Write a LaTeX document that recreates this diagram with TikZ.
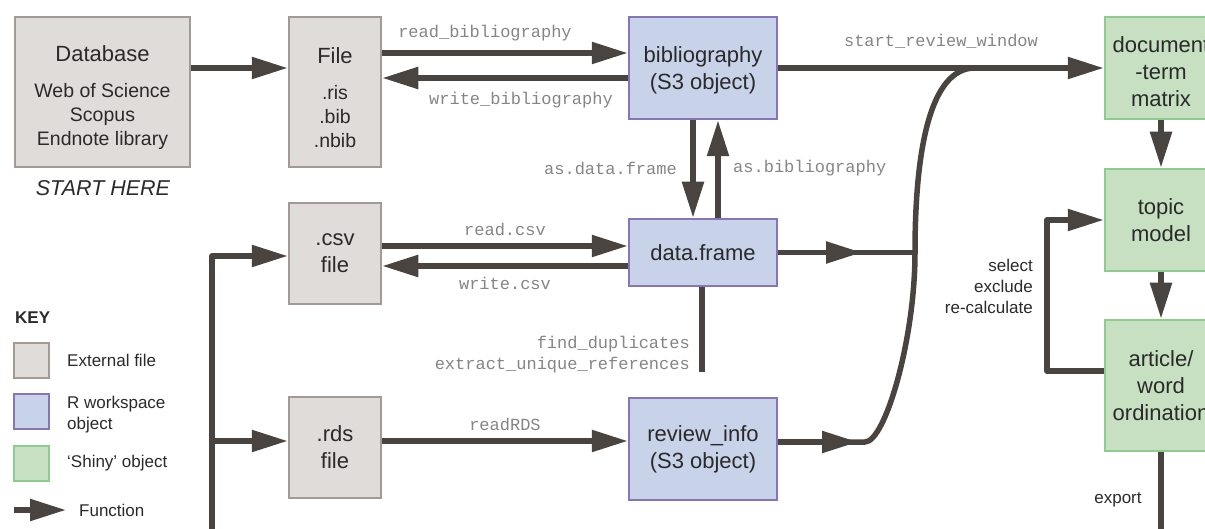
\documentclass[tikz,border=0pt]{standalone}
\usepackage{fontspec}
\setmainfont{Liberation Sans}
\setmonofont{Liberation Mono}
\usetikzlibrary{arrows.meta}
\definecolor{extfill}{HTML}{E0DCDA}
\definecolor{extline}{HTML}{A39A95}
\definecolor{robjfill}{HTML}{C8D2E8}
\definecolor{robjline}{HTML}{8676B8}
\definecolor{shinyfill}{HTML}{C6E0C1}
\definecolor{shinyline}{HTML}{8ECB8E}
\definecolor{fncol}{HTML}{4A4440}
\definecolor{boxtext}{HTML}{2A2A2A}
\definecolor{fnlabel}{HTML}{858585}
\tikzset{
  box/.style={draw, line width=2.5pt, align=center, inner sep=0pt, text=boxtext,
    font=\fontsize{22}{27}\selectfont},
  extfile/.style={box, fill=extfill, draw=extline},
  robj/.style={box, fill=robjfill, draw=robjline},
  shiny/.style={box, fill=shinyfill, draw=shinyline},
  ln/.style={draw=fncol, line width=5.5pt, line join=round},
  fn/.style={ln, -{Triangle[length=36pt,width=21pt]}},
  fname/.style={font=\ttfamily\fontsize{17}{21}\selectfont, text=fnlabel, inner sep=0pt},
  note/.style={font=\fontsize{17}{21}\selectfont, text=boxtext, inner sep=0pt},
}
\begin{document}
\begin{tikzpicture}[x=1pt, y=-1pt]
\useasboundingbox (0,0) rectangle (1205,529);
\clip (0,0) rectangle (1205,529);
% files and objects
\node [extfile, minimum width=175pt, minimum height=150pt, font=\fontsize{19.5}{24}\selectfont] (db) at (102.5,92)
  {{\fontsize{22}{27}\selectfont\rule{0pt}{28pt}Database}\\[12pt] Web of Science\\ Scopus\\ Endnote library};
\node [extfile, minimum width=92pt, minimum height=150pt, font=\fontsize{19.5}{24}\selectfont] (file) at (335,92)
  {{\fontsize{22}{27}\selectfont\rule{0pt}{28pt}File}\\[12pt] .ris\\ .bib\\ .nbib};
\node [robj, minimum width=148pt, minimum height=102pt] (bib) at (703,68) {\rule{0pt}{20pt}bibliography\\(S3 object)};
\node [shiny, minimum width=112pt, minimum height=102pt] (dtm) at (1161,68) {\rule{0pt}{24pt}document\\-term\\matrix};
\node [extfile, minimum width=92pt, minimum height=101pt] (csv) at (335,253.5) {.csv\\file};
\node [robj, minimum width=148pt, minimum height=67pt] (df) at (703,252.5) {data.frame};
\node [extfile, minimum width=92pt, minimum height=101pt] (rds) at (335,447.5) {.rds\\file};
\node [robj, minimum width=148pt, minimum height=102pt] (ri) at (703,449) {review\_info\\(S3 object)};
\node [shiny, minimum width=112pt, minimum height=102pt] (tm) at (1161,220) {topic\\model};
\node [shiny, minimum width=112pt, minimum height=131pt] (ord) at (1161,385.5) {article/\\word\\ordination};
\node [font=\itshape\fontsize{21.5}{26}\selectfont, text=boxtext] (start) at (103,188) {START HERE};
% helper points
\coordinate (dfhead) at (862,252.5);
\coordinate (join) at (915,252.5);
\coordinate (rihead) at (858,442);
\coordinate (merge) at (975,68);
\coordinate (dupend) at (702,372);
\coordinate (loop) at (1047,220);
\coordinate (exportend) at (1161,545);
\coordinate (busend) at (212,545);
\coordinate (rdsin) at ([yshift=6.5pt]rds.west);
% functions
\draw [fn] ([yshift=24pt]db.east) -- ([yshift=24pt]file.west);
\draw [fn] ([yshift=39pt]file.east) -- ([yshift=15pt]bib.west);
\draw [fn] ([yshift=-10pt]bib.west) -- ([yshift=14pt]file.east);
\draw [fn] (bib.east) -- (dtm.west);
\draw [fn] ([xshift=-10pt]bib.south) -- ([xshift=-10pt]df.north);
\draw [fn] ([xshift=15pt]df.north) -- ([xshift=15pt]bib.south);
\draw [fn] ([yshift=7.5pt]csv.east) -- ([yshift=6.5pt]df.west);
\draw [fn] ([yshift=-13.5pt]df.west) -- ([yshift=-12.5pt]csv.east);
\draw [fn] ([yshift=6.5pt]rds.east) -- ([yshift=8pt]ri.west);
\draw [ln] (df.east) -- (join);
\draw [fn] (df.east) -- (dfhead);
\draw [ln] ([yshift=7pt]ri.east) -- (865,442) .. controls (885,442) and (915,340) .. (join)
  .. controls (915,150) and (930,68) .. (merge);
\draw [fn] ([yshift=7pt]ri.east) -- (rihead);
\draw [ln] (df.south -| dupend) -- (dupend);
\draw [fn] (dtm.south) -- (tm.north);
\draw [fn] (tm.south) -- (ord.north);
\draw [fn] ([yshift=14.5pt]ord.west) -| (loop) -- (tm.west);
\draw [ln] (ord.south) -- (exportend);
\draw [fn] (busend) |- ([yshift=-2.5pt]csv.west);
\draw [fn] (busend |- rdsin) -- (rdsin);
% function names
\node [fname] (l1) at (485,33) {read\_bibliography};
\node [fname] (l2) at (521,100) {write\_bibliography};
\node [fname] (l3) at (941,41) {start\_review\_window};
\node [fname, anchor=east] (l4) at (677,168) {as.data.frame};
\node [fname, anchor=west] (l5) at (733,168) {as.bibliography};
\node [fname] (l6) at (505,229) {read.csv};
\node [fname] (l7) at (505,283) {write.csv};
\node [fname, anchor=east, align=right] (l8) at (690,354.5) {find\_duplicates\\extract\_unique\_references};
\node [fname] (l9) at (505,424) {readRDS};
\node [note, anchor=east, align=right] (l10) at (1033,286.5) {select\\exclude\\re-calculate};
\node [note] (l11) at (1118,500) {export};
% key
\node [font=\bfseries\fontsize{17}{21}\selectfont, text=boxtext, anchor=west, inner sep=0pt] (key) at (15,318) {KEY};
\node [extfile, minimum size=35pt] (kext) at (31.5,360.5) {};
\node [robj, minimum size=35pt] (krobj) at (31.5,411.5) {};
\node [shiny, minimum size=35pt] (kshiny) at (31.5,463.5) {};
\node [note, anchor=west] (t1) at (67,360) {External file};
\node [note, anchor=west, align=left] (t2) at (67,414.5) {R workspace\\object};
\node [note, anchor=west] (t3) at (67,463) {`Shiny' object};
\coordinate (kfrom) at (14,510);
\coordinate (kto) at (66,510);
\draw [fn] (kfrom) -- (kto);
\node [note, anchor=west] (t4) at (79,510) {Function};
\end{tikzpicture}
\end{document}
